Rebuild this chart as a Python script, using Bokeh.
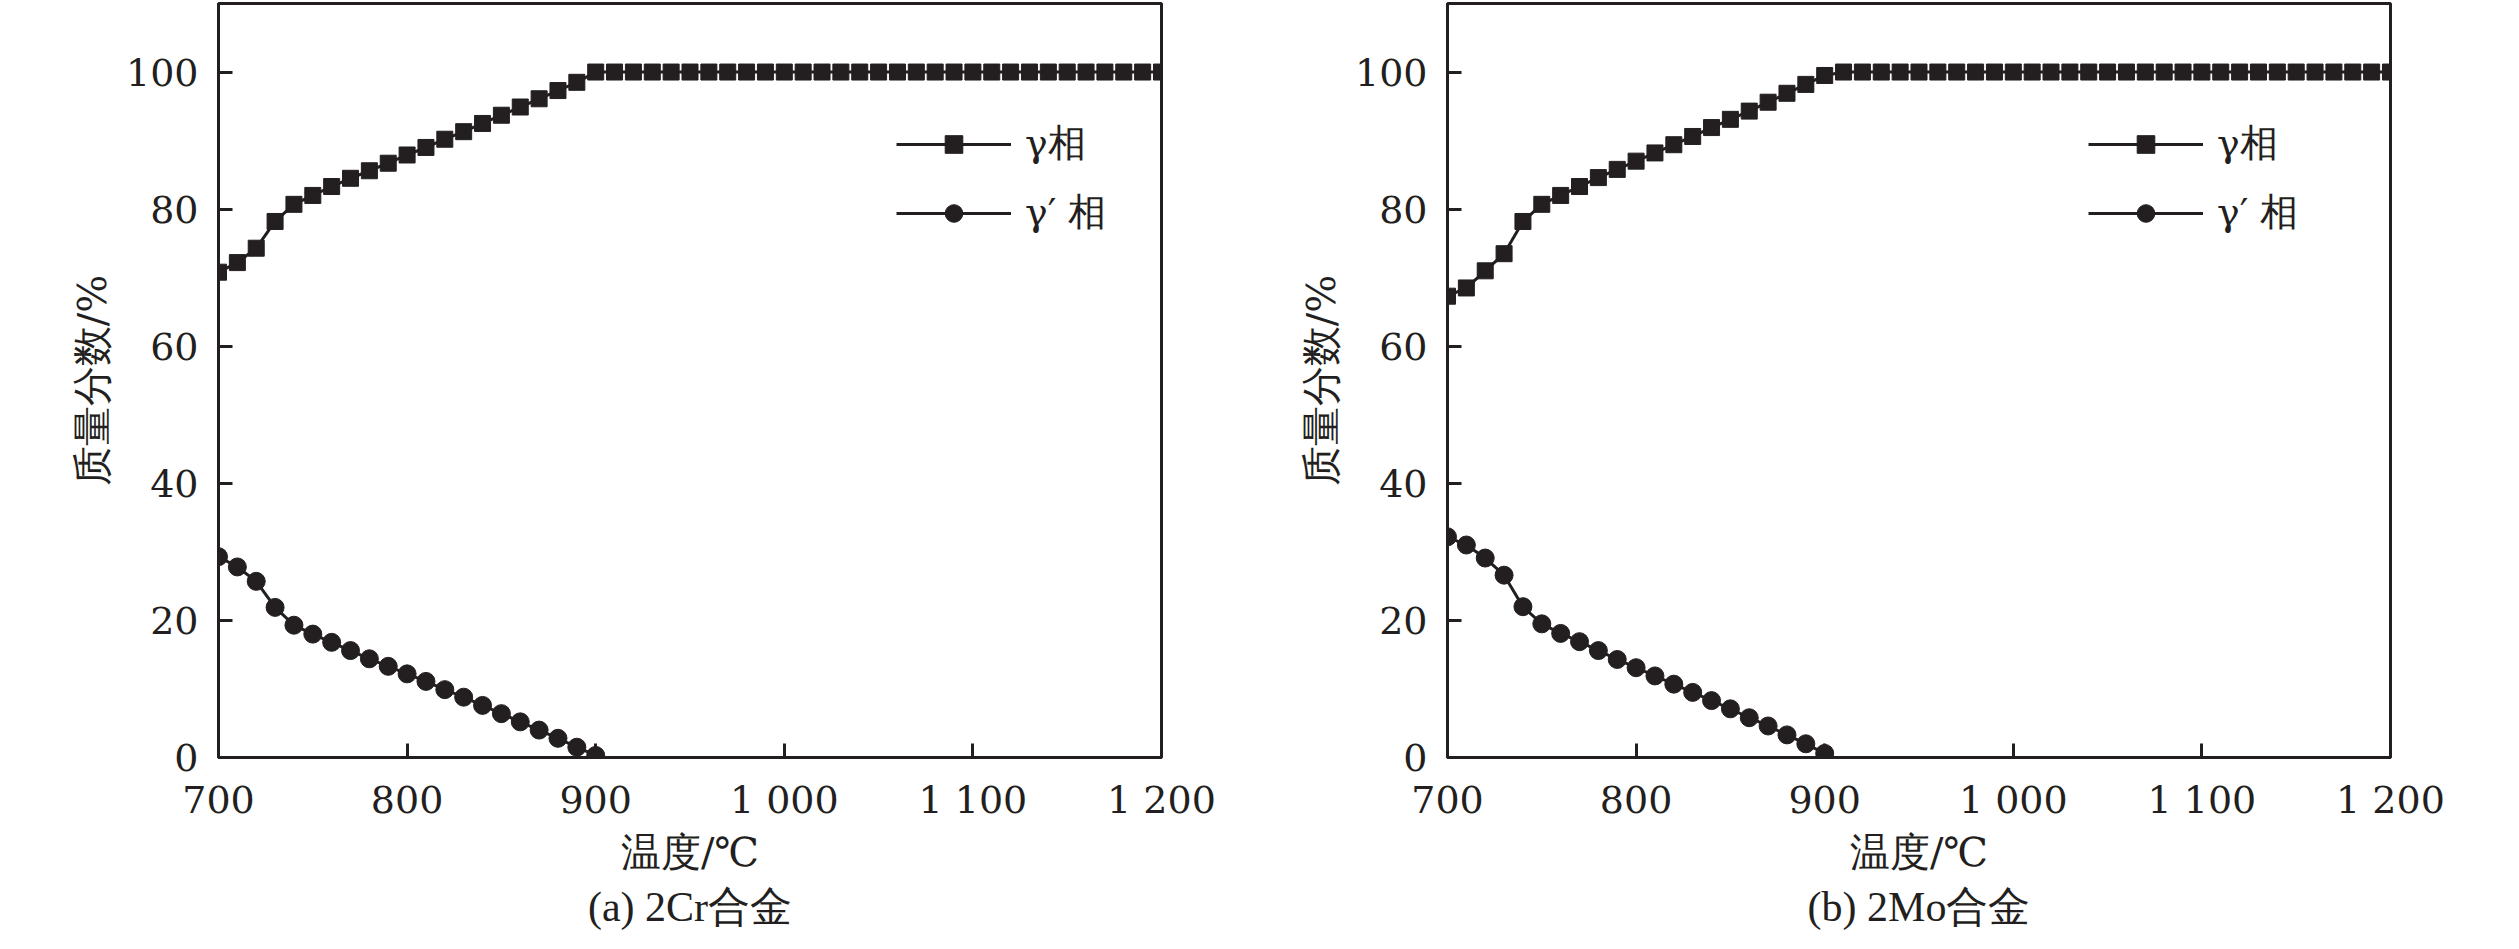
from bokeh.plotting import figure
from bokeh.layouts import row
from bokeh.models import FixedTicker, Range1d, Legend, LegendItem, Title
from bokeh.embed import file_html
from bokeh.resources import INLINE

# ---------------- data ----------------
temps = [700, 710, 720, 730, 740, 750, 760, 770, 780, 790, 800, 810, 820, 830, 840,
         850, 860, 870, 880, 890, 900, 910, 920, 930, 940, 950, 960, 970, 980, 990,
         1000, 1010, 1020, 1030, 1040, 1050, 1060, 1070, 1080, 1090, 1100, 1110, 1120,
         1130, 1140, 1150, 1160, 1170, 1180, 1190, 1200]
temps_gp = [700, 710, 720, 730, 740, 750, 760, 770, 780, 790, 800, 810, 820, 830, 840,
            850, 860, 870, 880, 890, 900]

gamma_2cr = [70.8, 72.2, 74.3, 78.2, 80.7, 82.0, 83.3, 84.5, 85.6, 86.7, 87.9, 89.0, 90.2,
             91.3, 92.5, 93.7, 94.9, 96.1, 97.3, 98.5, 100.0,
             100.0, 100.0, 100.0, 100.0, 100.0, 100.0, 100.0, 100.0, 100.0, 100.0,
             100.0, 100.0, 100.0, 100.0, 100.0, 100.0, 100.0, 100.0, 100.0, 100.0,
             100.0, 100.0, 100.0, 100.0, 100.0, 100.0, 100.0, 100.0, 100.0, 100.0]
gprime_2cr = [29.3, 27.8, 25.7, 21.9, 19.3, 18.0, 16.8, 15.6, 14.4, 13.3, 12.2, 11.1, 9.9,
              8.8, 7.6, 6.4, 5.2, 4.0, 2.8, 1.5, 0.3]

gamma_2mo = [67.3, 68.5, 71.0, 73.5, 78.2, 80.7, 82.0, 83.3, 84.6, 85.8, 87.0, 88.2, 89.4,
             90.6, 91.9, 93.1, 94.3, 95.6, 96.9, 98.2, 99.5,
             100.0, 100.0, 100.0, 100.0, 100.0, 100.0, 100.0, 100.0, 100.0, 100.0,
             100.0, 100.0, 100.0, 100.0, 100.0, 100.0, 100.0, 100.0, 100.0, 100.0,
             100.0, 100.0, 100.0, 100.0, 100.0, 100.0, 100.0, 100.0, 100.0, 100.0]
gprime_2mo = [32.2, 31.0, 29.1, 26.6, 22.0, 19.5, 18.1, 16.9, 15.6, 14.3, 13.1, 11.9, 10.7,
              9.5, 8.3, 7.1, 5.8, 4.6, 3.3, 2.0, 0.6]

x_ticks = [700, 800, 900, 1000, 1100, 1200]
x_tick_labels = ["700", "800", "900", "1 000", "1 100", "1 200"]
y_ticks = [0, 20, 40, 60, 80, 100]

series_names = ["γ相", "γ′ 相"]
x_title = "温度/℃"
y_title = "质量分数/%"
captions = ["(a) 2Cr合金", "(b) 2Mo合金"]

# ---------------- style ----------------
INK = "#231f20"
AXIS_FONT = "DejaVu Serif"
TITLE_FONT = "Liberation Serif"
TICK_FS = "38px"
LABEL_FS = "40px"


def make_panel(gamma, gprime, caption, width, border_left, border_right, legend_x):
    p = figure(width=width, height=933, output_backend="svg", toolbar_location=None,
               x_range=Range1d(700, 1200), y_range=Range1d(0, 110),
               min_border_left=border_left, min_border_right=border_right,
               min_border_top=3, min_border_bottom=175)
    p.background_fill_color = "white"
    p.border_fill_color = "white"
    p.outline_line_color = INK
    p.outline_line_width = 3
    p.xgrid.visible = False
    p.ygrid.visible = False

    r1l = p.line(temps, gamma, line_color=INK, line_width=3)
    r1m = p.scatter(temps, gamma, marker="square", size=16, fill_color=INK, line_color=INK)
    r2l = p.line(temps_gp, gprime, line_color=INK, line_width=3)
    r2m = p.scatter(temps_gp, gprime, marker="circle", size=18, fill_color=INK, line_color=INK)

    p.axis.axis_line_color = INK
    p.axis.axis_line_width = 3
    p.axis.major_tick_line_color = INK
    p.axis.major_tick_line_width = 3
    p.axis.major_tick_in = 14
    p.axis.major_tick_out = 0
    p.axis.minor_tick_line_color = None
    p.axis.major_label_text_font = AXIS_FONT
    p.axis.major_label_text_font_size = TICK_FS
    p.axis.major_label_text_color = INK
    p.axis.axis_label_text_font = AXIS_FONT
    p.axis.axis_label_text_font_size = LABEL_FS
    p.axis.axis_label_text_font_style = "normal"
    p.axis.axis_label_text_color = INK

    p.xaxis.ticker = FixedTicker(ticks=x_ticks)
    p.xaxis.major_label_overrides = {t: s for t, s in zip(x_ticks, x_tick_labels)}
    p.xaxis.major_label_standoff = 20
    p.xaxis.axis_label = x_title
    p.xaxis.axis_label_standoff = 4

    p.yaxis.ticker = FixedTicker(ticks=y_ticks)
    p.yaxis.major_label_standoff = 20
    p.yaxis.axis_label = y_title
    p.yaxis.axis_label_standoff = 8

    legend = Legend(items=[LegendItem(label=series_names[0], renderers=[r1l, r1m]),
                           LegendItem(label=series_names[1], renderers=[r2l, r2m])],
                    location=(legend_x, 519),
                    glyph_width=115, glyph_height=44, label_height=44, spacing=18,
                    padding=0, margin=0, label_standoff=14,
                    label_text_font=AXIS_FONT, label_text_font_size="38px",
                    label_text_color=INK, border_line_color=None,
                    background_fill_alpha=0)
    p.add_layout(legend, "center")

    cap = Title(text=caption, align="center", text_font=TITLE_FONT, text_font_size="42px",
                text_font_style="normal", text_color=INK, standoff=8)
    p.add_layout(cap, "below")
    return p


p1 = make_panel(gamma_2cr, gprime_2cr, captions[0], 1255, 218, 94, 678)
p2 = make_panel(gamma_2mo, gprime_2mo, captions[1], 1248, 192, 113, 641)

layout = row(p1, p2)
open("out.html", "w").write(file_html(layout, INLINE))
